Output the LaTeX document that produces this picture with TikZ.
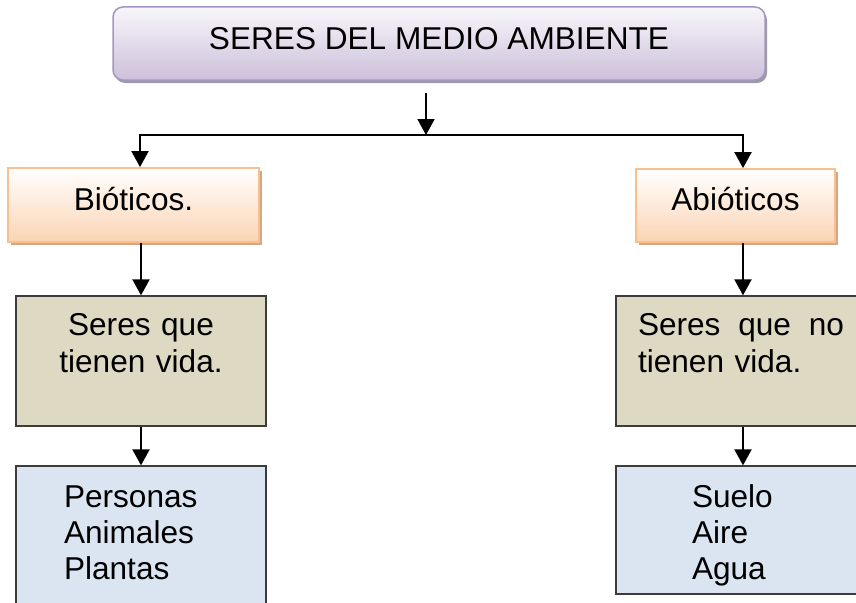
\documentclass[tikz,border=0pt]{standalone}
\usepackage{fontspec}
\setmainfont{Liberation Sans}
\usetikzlibrary{arrows.meta,shadows}
\definecolor{lavtop}{HTML}{F8F6FA}
\definecolor{lavbot}{HTML}{CCC0DB}
\definecolor{lavline}{HTML}{A596C1}
\definecolor{lavshadow}{HTML}{9E9AA3}
\definecolor{peachtop}{HTML}{FFFFFF}
\definecolor{peachbot}{HTML}{FBD4B4}
\definecolor{peachline}{HTML}{F9BF8F}
\definecolor{peachshadow}{HTML}{D2A882}
\definecolor{tanfill}{HTML}{DDD9C3}
\definecolor{bluefill}{HTML}{DBE5F1}
\definecolor{boxline}{HTML}{3C3C3C}
\begin{document}
\begin{tikzpicture}[x=1pt,y=-1pt,
  every node/.style={font=\fontsize{31.6}{37}\selectfont},
  titlebox/.style={rectangle, rounded corners=10pt, draw=lavline, line width=1.5pt,
    top color=lavtop, bottom color=lavbot,
    drop shadow={shadow xshift=2pt,shadow yshift=-3pt,fill=lavshadow,opacity=1},
    minimum width=652pt, minimum height=73pt, inner sep=0pt,
    text height=22pt, text depth=11pt},
  catbox/.style={rectangle, draw=peachline, line width=1.8pt,
    top color=peachtop, bottom color=peachbot,
    drop shadow={shadow xshift=3pt,shadow yshift=-3pt,fill=peachshadow,opacity=1},
    minimum height=74pt, inner sep=0pt, text height=21pt, text depth=11pt},
  tanbox/.style={rectangle, draw=boxline, line width=1.3pt, fill=tanfill,
    minimum width=250pt, minimum height=130pt, inner xsep=22pt, inner ysep=0pt,
    text width=206pt, text height=22pt, text depth=74pt},
  bluebox/.style={rectangle, draw=boxline, line width=1.3pt, fill=bluefill,
    font=\fontsize{31.6}{36}\selectfont, minimum width=250pt, inner ysep=0pt,
    align=left, text height=22pt},
  conn/.style={line width=2pt, -{Triangle[width=17pt,length=16pt]}},
  twoway/.style={line width=2pt, {Triangle[width=17pt,length=16pt]}-{Triangle[width=17pt,length=16pt]}}
]
\useasboundingbox (0,0) rectangle (856,602);
\begin{scope}
\clip (0,0) rectangle (856,602);
\node[titlebox] (title) at (439,43.5) {SERES DEL MEDIO AMBIENTE};
\node[catbox, minimum width=251pt] (bio) at (133.5,205) {Bióticos.};
\node[catbox, minimum width=199pt, minimum height=73pt] (abio) at (735.5,205.5) {Abióticos};
\node[tanbox, align=center] (seresL) at (141,361) {Seres que\\tienen vida.};
\node[tanbox, align=left] (seresR) at (741,361) {\hbox to 206pt{Seres\hfill que\hfill no}\\tienen vida.};
\node[bluebox, text depth=94pt, minimum height=154pt, inner xsep=48pt, text width=154pt] (blueL) at (141,543) {Personas\\Animales\\Plantas};
\node[bluebox, text depth=68pt, minimum height=128pt, inner xsep=76pt, text width=98pt] (blueR) at (741,530) {Suelo\\Aire\\Agua};
\coordinate (j) at (426,135);
\coordinate (jl) at (140,135);
\coordinate (jr) at (743,135);
\coordinate (ts) at ([yshift=-12pt]title.south);
\draw[conn] (ts -| j) -- (j);
\draw[twoway] (bio.north -| jl) -- (jl) -- (jr) -- (abio.north -| jr);
\draw[conn] (bio.south -| seresL.north) -- (seresL.north);
\draw[conn] (seresL.south) -- (blueL.north);
\draw[conn] (abio.south -| jr) -- (seresR.north -| jr);
\draw[conn] (seresR.south -| jr) -- (blueR.north -| jr);
\end{scope}
\end{tikzpicture}
\end{document}
